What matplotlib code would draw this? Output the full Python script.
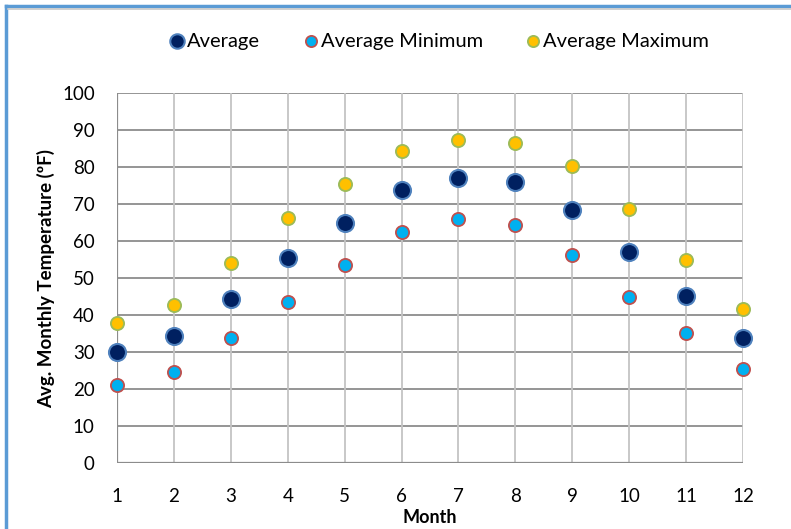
import matplotlib
matplotlib.use("Agg")
import matplotlib.pyplot as plt
from matplotlib.lines import Line2D

months = [1, 2, 3, 4, 5, 6, 7, 8, 9, 10, 11, 12]
avg_temp = [30.0, 34.3, 44.4, 55.4, 64.9, 73.8, 76.9, 76.0, 68.5, 57.0, 45.2, 33.8]
avg_min = [21.1, 24.6, 33.8, 43.5, 53.6, 62.4, 65.9, 64.2, 56.3, 44.9, 35.2, 25.5]
avg_max = [37.8, 42.7, 54.0, 66.3, 75.5, 84.2, 87.3, 86.4, 80.3, 68.6, 55.0, 41.5]
y_ticks = [0, 10, 20, 30, 40, 50, 60, 70, 80, 90, 100]

plt.rcParams['font.family'] = ['Lato', 'DejaVu Sans']

fig = plt.figure(figsize=(7.91, 5.29), dpi=100)
ax = fig.add_axes([117 / 791, 1 - 463 / 529, (743 - 117) / 791, (463 - 93) / 529])

ax.set_xlim(1, 12)
ax.set_ylim(0, 100)
ax.set_xticks(months)
ax.set_yticks(y_ticks)

# grid: horizontal lines darker than vertical ones
for y in y_ticks:
    ax.axhline(y, color='#8c8c8c', lw=1.3, zorder=1)
for x in months:
    ax.axvline(x, color='#c4c4c4', lw=1.3, zorder=1)
for s in ax.spines.values():
    s.set_visible(False)
ax.axvline(1, color='#8c8c8c', lw=1.6, zorder=1)
ax.axhline(0, color='#8c8c8c', lw=1.6, zorder=1)

ax.scatter(months, avg_temp, s=150, color='#002060', edgecolors='#4f81bd',
           linewidths=1.5, zorder=3, clip_on=False, label='Average')
ax.scatter(months, avg_min, s=90, color='#00b0f0', edgecolors='#c0504d',
           linewidths=1.3, zorder=3, clip_on=False, label='Average Minimum')
ax.scatter(months, avg_max, s=90, color='#ffc000', edgecolors='#9bbb59',
           linewidths=1.3, zorder=3, clip_on=False, label='Average Maximum')

ax.tick_params(axis='both', length=0, labelsize=13.5, colors='#000000')
ax.tick_params(axis='y', pad=16)
ax.tick_params(axis='x', pad=18)

ax.set_xlabel('Month', fontsize=13, fontweight='bold', labelpad=3)
ax.set_ylabel('Avg. Monthly Temperature (ºF)', fontsize=13.5, fontweight='bold', labelpad=5)

leg = fig.legend(loc='center', bbox_to_anchor=(437 / 791, 1 - 41 / 529), ncol=3,
                 frameon=False, fontsize=14.5, handletextpad=-0.1, columnspacing=1.9,
                 scatterpoints=1, markerscale=0.85, handlelength=1.2)

# chart frame
fig.add_artist(Line2D([6 / 791, 6 / 791], [0, 1 - 6 / 529], transform=fig.transFigure,
                      color='#5b9bd5', lw=2.5))
fig.add_artist(Line2D([6 / 791, 1], [1 - 6 / 529, 1 - 6 / 529], transform=fig.transFigure,
                      color='#5b9bd5', lw=2.5))
fig.add_artist(Line2D([8 / 791, 1], [1 - 9 / 529, 1 - 9 / 529], transform=fig.transFigure,
                      color='#c8c8c8', lw=1.2))

fig.savefig('out.png', dpi=100)
